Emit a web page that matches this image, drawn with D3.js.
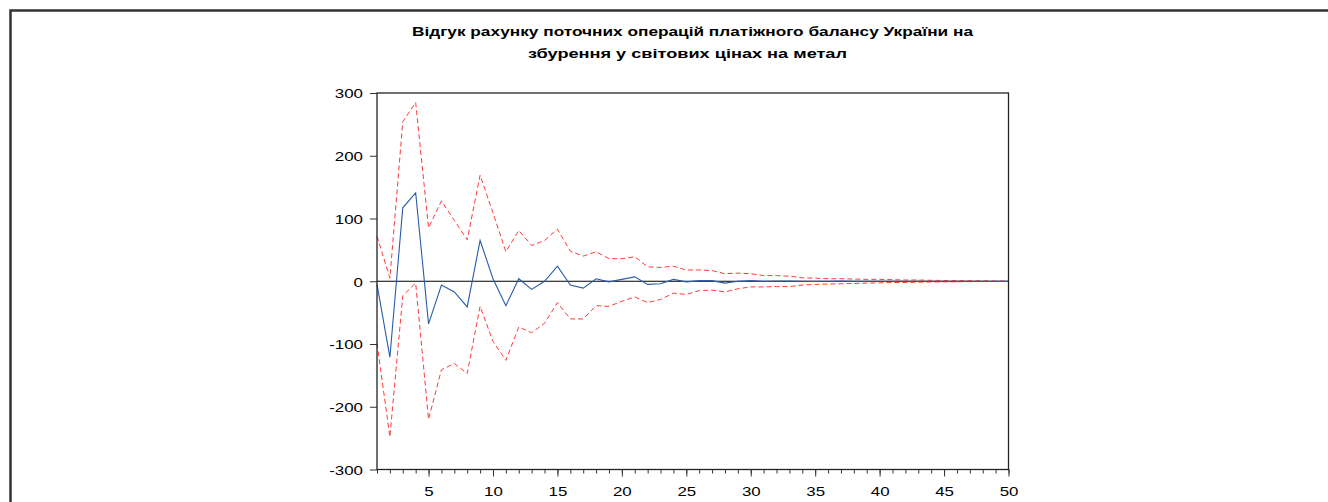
<!DOCTYPE html>
<html>
<head>
<meta charset="utf-8">
<script src="https://cdn.jsdelivr.net/npm/d3@7"></script>
<style>
  html, body { margin: 0; padding: 0; background: #fff; }
  svg { display: block; }
  text { font-family: "Liberation Sans", Arial, sans-serif; fill: #000; }
</style>
</head>
<body>
<svg id="chart" width="1328" height="502"></svg>
<script>
const titleLines = [
  "Відгук рахунку поточних операцій платіжного балансу України на",
  "збурення у світових цінах на метал"
];
const periods = d3.range(1, 51);
const response = [-5, -121, 117, 141, -68, -6, -17, -41, 65, 4,
  -39, 4, -13, 0, 24, -6, -11, 4, -1, 3,
  7, -5, -4, 3, -1, 1, 1, -3, 0, 1,
  0, 0.3, 0.2, 0, -0.2, 0.1, 0.2, 0, -0.1, 0,
  0.1, 0, 0, 0, 0, 0, 0, 0, 0, 0];
const upper = [72, 5, 254, 285, 85, 128, 97, 66, 169, 109,
  47, 81, 57, 65, 83, 48, 40, 47, 36, 36,
  39, 23, 22, 24, 18, 18, 17, 12, 13, 12,
  9, 9, 8, 5.5, 5, 4, 4, 3.5, 3, 3,
  2.5, 2, 2, 1.5, 1.2, 1, 1, 0.8, 0.6, 0.5];
const lower = [-99, -248, -23, -3, -220, -141, -131, -147, -40, -96,
  -126, -73, -82, -67, -34, -60, -60, -39, -40, -32,
  -25, -34, -29, -19, -21, -15, -14, -17, -12, -9,
  -9, -8.5, -8.5, -6, -5, -4.5, -4, -3.5, -3, -2.5,
  -2, -2, -1.5, -1.2, -1, -0.8, -0.6, -0.5, -0.4, -0.3];
const yTicks = [-300, -200, -100, 0, 100, 200, 300];
const xMajorTicks = [5, 10, 15, 20, 25, 30, 35, 40, 45, 50];

(function () {
const svg = d3.select("#chart");
const W = 1328, H = 502;
const pL = 377, pR = 1008.5, pT = 93, pB = 469.5;
const sx = 1.25;

const x = d3.scaleLinear().domain([1, 50]).range([pL, pR]);
const y = d3.scaleLinear().domain([-300, 300]).range([pB, pT]);

// outer frame (top and left edges)
svg.append("path")
  .attr("d", `M10.5,${H} L10.5,10.5 L${W},10.5`)
  .attr("fill", "none").attr("stroke", "#333").attr("stroke-width", 2.5);

// title
const tl = [[36, 412, 561], [58, 528, 319]];
titleLines.forEach((t, i) => {
  svg.append("text")
    .attr("x", tl[i][1]).attr("y", tl[i][0])
    .attr("font-size", 13.5).attr("font-weight", "bold")
    .attr("textLength", tl[i][2]).attr("lengthAdjust", "spacingAndGlyphs")
    .text(t);
});

// zero line
svg.append("line")
  .attr("x1", pL).attr("x2", pR)
  .attr("y1", y(0)).attr("y2", y(0))
  .attr("stroke", "#000").attr("stroke-width", 1);

// series
const line = d3.line().x((d, i) => x(periods[i])).y(d => y(d));
svg.append("path").datum(upper).attr("d", line)
  .attr("fill", "none").attr("stroke", "#ff3b3b").attr("stroke-width", 1)
  .attr("stroke-dasharray", "5,3");
svg.append("path").datum(lower).attr("d", line)
  .attr("fill", "none").attr("stroke", "#ff3b3b").attr("stroke-width", 1)
  .attr("stroke-dasharray", "5,3");
svg.append("path").datum(response).attr("d", line)
  .attr("fill", "none").attr("stroke", "#2a5caa").attr("stroke-width", 1.1);

// plot frame
svg.append("rect")
  .attr("x", pL).attr("y", pT)
  .attr("width", pR - pL).attr("height", pB - pT)
  .attr("fill", "none").attr("stroke", "#222").attr("stroke-width", 1.3);

const fmt = d => String(d);

// y axis
const yAxis = svg.append("g").attr("transform", `translate(${pL},0)`)
  .call(d3.axisLeft(y).tickValues(yTicks).tickSize(7).tickFormat(fmt));
yAxis.select(".domain").remove();
yAxis.selectAll(".tick line").attr("stroke", "#333");
yAxis.selectAll(".tick text")
  .attr("font-size", 13.5).attr("font-family", "'Liberation Sans', Arial, sans-serif")
  .attr("x", -14 / sx).attr("dy", "0.36em")
  .attr("transform", `scale(${sx},1)`);

// x axis minor
const xMinor = svg.append("g").attr("transform", `translate(0,${pB})`)
  .call(d3.axisBottom(x).tickValues(periods).tickSize(4).tickFormat(""));
xMinor.select(".domain").remove();
xMinor.selectAll(".tick line").attr("stroke", "#333");

// x axis major
const xAxis = svg.append("g").attr("transform", `translate(0,${pB})`)
  .call(d3.axisBottom(x).tickValues(xMajorTicks).tickSize(7).tickFormat(fmt));
xAxis.select(".domain").remove();
xAxis.selectAll(".tick line").attr("stroke", "#333");
xAxis.selectAll(".tick text")
  .attr("font-size", 13.5).attr("font-family", "'Liberation Sans', Arial, sans-serif")
  .attr("y", 26.5).attr("dy", 0)
  .attr("transform", `scale(${sx},1)`);
})();
</script>
</body>
</html>
